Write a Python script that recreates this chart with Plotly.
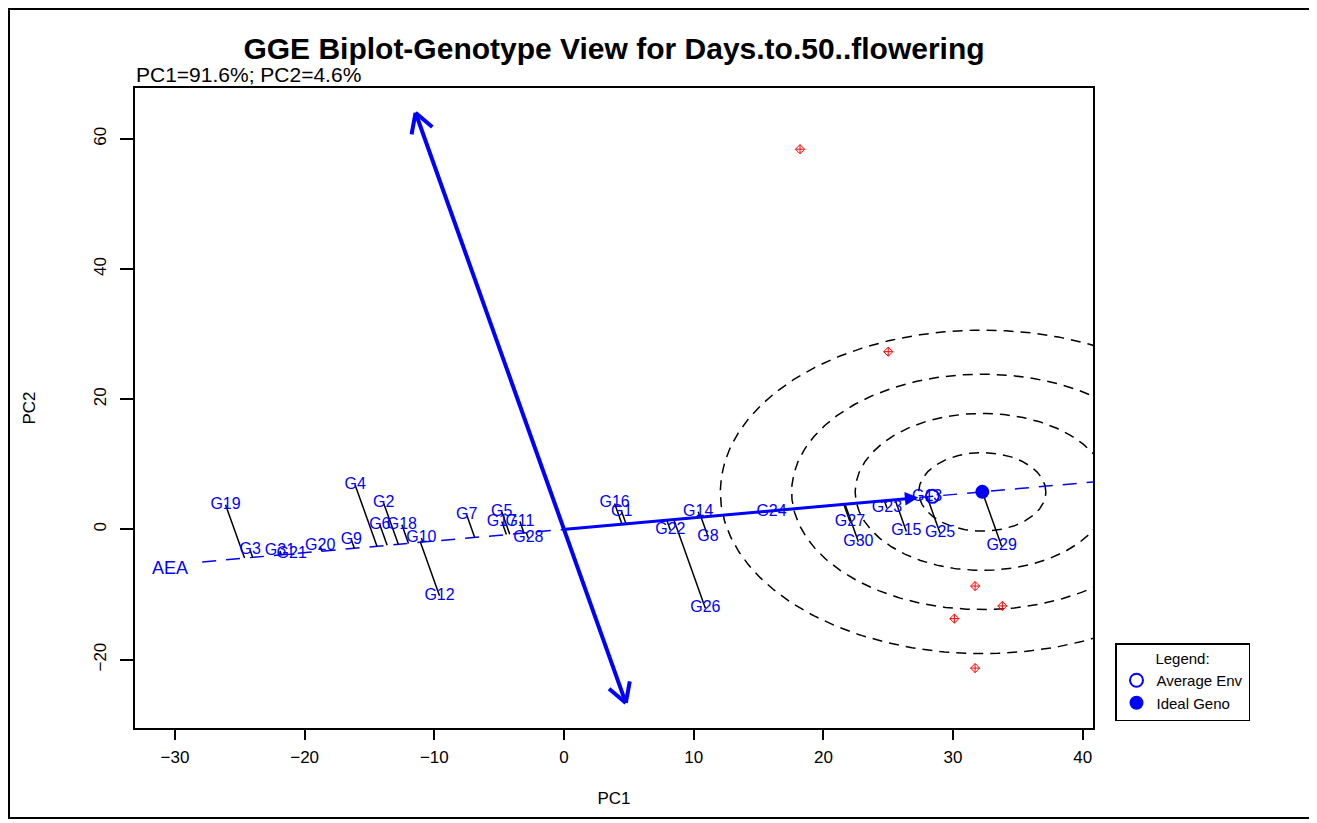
import numpy as np
import plotly.graph_objects as go

# ---------------- data ----------------
genotypes = ["G1", "G2", "G3", "G4", "G5", "G6", "G7", "G8", "G9", "G10",
             "G11", "G12", "G13", "G14", "G15", "G16", "G17", "G18", "G19", "G20",
             "G21", "G22", "G23", "G24", "G25", "G26", "G27", "G28", "G29", "G30", "G31"]
geno_pc1 = [4.45, -13.9, -24.2, -16.1, -4.8, -14.2, -7.5, 11.1, -16.4, -11.0,
            -3.4, -9.6, 28.0, 10.35, 26.4, 3.9, -4.8, -12.5, -26.1, -18.8,
            -21.0, 8.2, 24.9, 16.0, 29.0, 10.9, 22.05, -2.75, 33.75, 22.7, -21.9]
geno_pc2 = [2.7, 4.0, -3.2, 6.8, 2.7, 0.7, 2.2, -1.1, -1.6, -1.3,
            1.2, -10.2, 5.0, 2.7, -0.3, 4.0, 1.2, 0.7, 3.8, -2.6,
            -3.7, -0.1, 3.3, 2.7, -0.6, -12.1, 1.2, -1.35, -2.6, -1.9, -3.3]

env_pc1 = [18.2, 25.0, 31.7, 33.8, 30.1, 31.7]
env_pc2 = [58.4, 27.3, -8.7, -11.75, -13.7, -21.3]

avg_env = (28.4, 5.08)          # Average environment coordinate
atc_y_ends = [64.0, -26.65]     # ends of the ATC ordinate (PC2 values)
aea_x_start = -27.9             # left end of the AEA abscissa
ring_radii = [4.9, 9.8, 14.7, 20.2]
ring_y_ratio = 1.23

x_ticks = [-30, -20, -10, 0, 10, 20, 30, 40]
y_ticks = [-20, 0, 20, 40, 60]

title_text = "GGE Biplot-Genotype View for Days.to.50..flowering"
subtitle_text = "PC1=91.6%; PC2=4.6%"

# ---------------- layout constants ----------------
OFF = 8                          # page body margin
W, H = 1317 - OFF, 823 - OFF
ML, MT = 135 - OFF, 88 - OFF
MR, MB = W - (1093 - OFF), H - (728 - OFF)
x_range = [-33.08, 40.79]
y_range = [-30.5, 67.8]
FONT = "Liberation Sans, Arial, sans-serif"

pw, ph = W - ML - MR, H - MT - MB
sx = pw / (x_range[1] - x_range[0])   # px per PC1 unit
sy = ph / (y_range[1] - y_range[0])   # px per PC2 unit

# AEA direction
ax_, ay_ = avg_env
norm = np.hypot(ax_, ay_)
ux, uy = ax_ / norm, ay_ / norm

g1 = np.array(geno_pc1)
g2 = np.array(geno_pc2)
t = g1 * ux + g2 * uy
proj1, proj2 = t * ux, t * uy
imax = int(np.argmax(t))
ideal = (proj1[imax], proj2[imax])

fig = go.Figure()

# concentric rings about the ideal genotype
theta = np.linspace(0, 2 * np.pi, 400)
for r in ring_radii:
    fig.add_trace(go.Scatter(
        x=ideal[0] + r * np.cos(theta),
        y=ideal[1] + r * ring_y_ratio * np.sin(theta),
        mode="lines", line=dict(color="black", width=1.5, dash="10px,7px"),
        hoverinfo="skip", showlegend=False))

# AEA dashed abscissa
x_end = x_range[1] + 5
fig.add_trace(go.Scatter(
    x=[aea_x_start, x_end], y=[aea_x_start * uy / ux, x_end * uy / ux],
    mode="lines", line=dict(color="blue", width=1.5, dash="14px,10px"),
    hoverinfo="skip", showlegend=False))

# projection lines genotype -> AEA
px_, py_ = [], []
for a, b, c, d in zip(g1, g2, proj1, proj2):
    px_ += [a, c, None]
    py_ += [b, d, None]
fig.add_trace(go.Scatter(x=px_, y=py_, mode="lines",
                         line=dict(color="black", width=1.5),
                         hoverinfo="skip", showlegend=False))

# ATC ordinate (double headed arrow), perpendicular to AEA
atc_pts = [(-y * uy / ux, y) for y in atc_y_ends]
fig.add_trace(go.Scatter(x=[p[0] for p in atc_pts], y=[p[1] for p in atc_pts],
                         mode="lines", line=dict(color="blue", width=4),
                         hoverinfo="skip", showlegend=False))


def v_head(tip, base, length_px=22, ang=30):
    dxp = (base[0] - tip[0]) * sx
    dyp = (base[1] - tip[1]) * sy
    L = np.hypot(dxp, dyp)
    dxp, dyp = dxp / L, dyp / L
    xs, ys = [], []
    for s in (ang, -ang):
        a = np.radians(s)
        rx = dxp * np.cos(a) - dyp * np.sin(a)
        ry = dxp * np.sin(a) + dyp * np.cos(a)
        xs += [tip[0] + rx * length_px / sx, tip[0], None]
        ys += [tip[1] + ry * length_px / sy, tip[1], None]
    return xs, ys


hx, hy = [], []
for p in atc_pts:
    xs, ys = v_head(p, (0, 0))
    hx += xs
    hy += ys
fig.add_trace(go.Scatter(x=hx, y=hy, mode="lines",
                         line=dict(color="blue", width=4),
                         hoverinfo="skip", showlegend=False))

# genotype labels
fig.add_trace(go.Scatter(x=geno_pc1, y=geno_pc2, mode="text", text=genotypes,
                         textposition="middle center",
                         textfont=dict(color="blue", size=16, family=FONT),
                         hoverinfo="text", showlegend=False))

# environments (red small markers)
fig.add_trace(go.Scatter(x=env_pc1, y=env_pc2, mode="markers",
                         marker=dict(symbol="diamond-cross-open", size=7,
                                     color="red", line=dict(width=1, color="red")),
                         hoverinfo="skip", showlegend=False))

# average env & ideal genotype (legend entries)
fig.add_trace(go.Scatter(x=[avg_env[0]], y=[avg_env[1]], mode="markers",
                         name="Average Env",
                         marker=dict(symbol="circle-open", size=13, color="blue",
                                     line=dict(width=2, color="blue"))))
fig.add_trace(go.Scatter(x=[ideal[0]], y=[ideal[1]], mode="markers",
                         name="Ideal Geno",
                         marker=dict(symbol="circle", size=14, color="blue")))

annotations = [
    dict(x=avg_env[0], y=avg_env[1], ax=0, ay=0, xref="x", yref="y",
         axref="x", ayref="y", text="", showarrow=True, arrowhead=2,
         arrowsize=0.9, arrowwidth=3, arrowcolor="blue", standoff=14),
    dict(x=aea_x_start - 2.5, y=aea_x_start * uy / ux - 0.9, xref="x", yref="y",
         text="AEA", showarrow=False, xanchor="center", yanchor="middle",
         font=dict(color="blue", size=18, family=FONT)),
    dict(x=0, y=1.0 + 1.0 / ph, xref="paper", yref="paper", text=subtitle_text,
         showarrow=False, xanchor="left", yanchor="bottom", borderpad=0,
         font=dict(color="black", size=21, family=FONT)),
]

frame = dict(type="rect", xref="paper", yref="paper",
             x0=(1 - ML) / pw, x1=(1303 - ML) / pw,
             y0=(H - MB - 810) / ph, y1=(H - MB - 1) / ph,
             line=dict(color="black", width=2), fillcolor="rgba(0,0,0,0)")

fig.update_layout(
    width=W, height=H,
    margin=dict(l=ML, r=MR, t=MT, b=MB, autoexpand=False),
    paper_bgcolor="white", plot_bgcolor="white",
    font=dict(family=FONT, color="black"),
    title=dict(text="<b>" + title_text + "</b>", x=0.5, xref="paper",
               y=1 - (48 - OFF) / H, yref="container", xanchor="center", yanchor="middle",
               font=dict(size=30, family=FONT, color="black")),
    xaxis=dict(range=x_range, tickvals=x_ticks, ticks="outside", ticklen=10,
               tickwidth=1.5, tickcolor="black", showline=True, mirror=True,
               linecolor="black", linewidth=1.5, showgrid=False, zeroline=False,
               tickfont=dict(size=17), ticklabelstandoff=3,
               title=dict(text="PC1", font=dict(size=17), standoff=26)),
    yaxis=dict(range=y_range, tickvals=y_ticks, ticks="outside", ticklen=13,
               tickwidth=1.5, tickcolor="black", showline=True, mirror=True,
               linecolor="black", linewidth=1.5, showgrid=False, zeroline=False,
               tickangle=-90, tickfont=dict(size=17), ticklabelstandoff=7,
               title=dict(text="PC2", font=dict(size=17), standoff=52)),
    showlegend=True,
    legend=dict(x=(1115 - 135) / pw, y=(728 - 643) / ph, xanchor="left", yanchor="top",
                bgcolor="white", bordercolor="black", borderwidth=1.5,
                font=dict(size=15, family=FONT),
                title=dict(text="Legend:", side="top center", font=dict(size=15)),
                itemwidth=30, tracegroupgap=0),
    annotations=annotations,
    shapes=[frame],
)

fig.write_html("out.html")
